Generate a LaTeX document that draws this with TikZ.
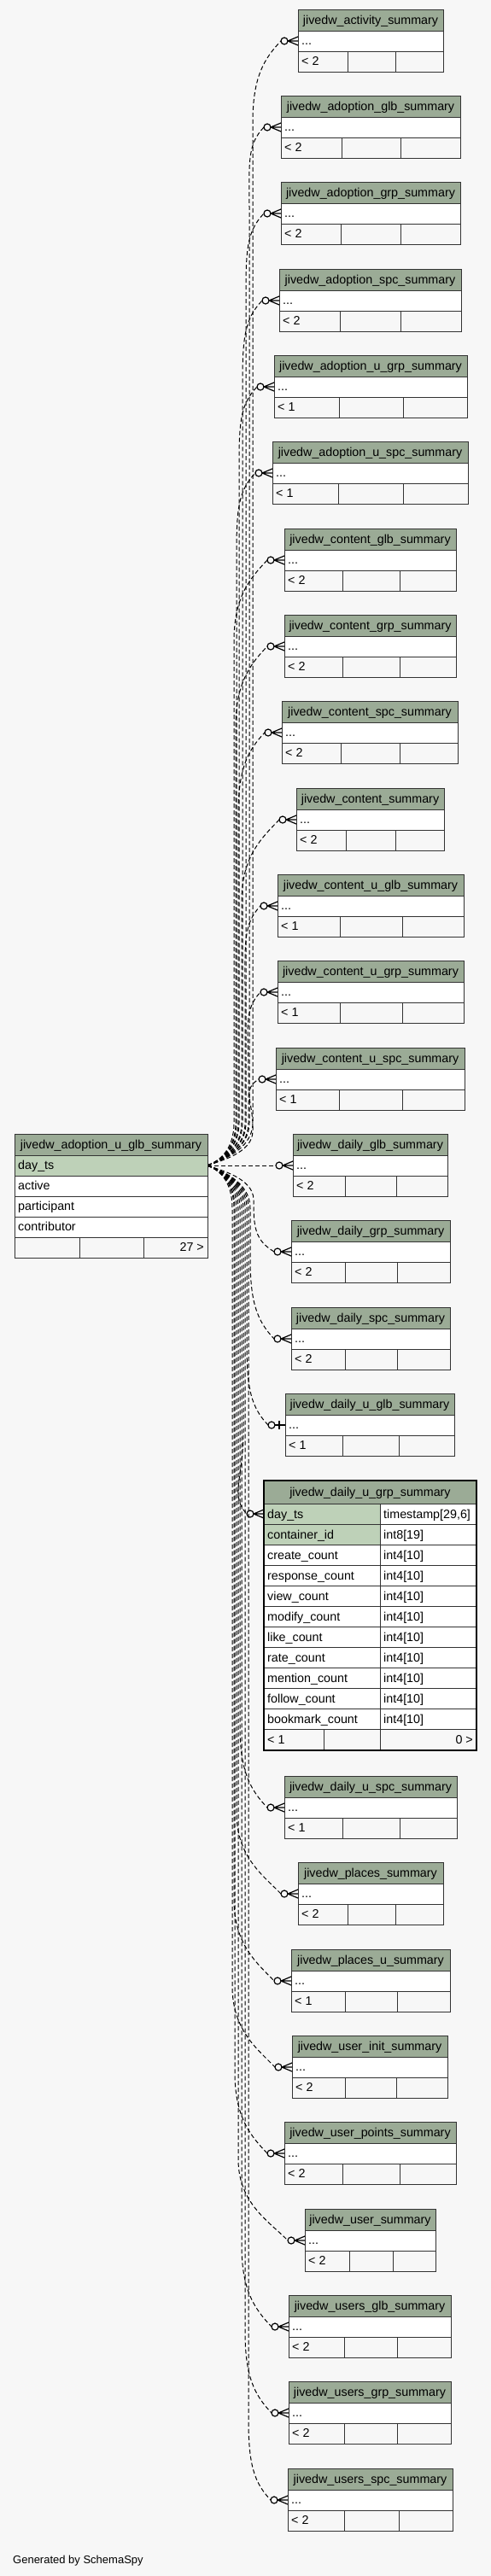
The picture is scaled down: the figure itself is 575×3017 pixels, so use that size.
\documentclass[tikz,border=0pt]{standalone}
\usepackage{fontspec}
\setmainfont{Liberation Sans}
\definecolor{hdr}{HTML}{9BAB96}
\definecolor{pkc}{HTML}{BED1B8}
\definecolor{bgc}{HTML}{F7F7F7}
\definecolor{ln}{HTML}{333333}
\pgfdeclarelayer{bglayer}
\pgfdeclarelayer{edgelayer}
\pgfsetlayers{bglayer,edgelayer,main}
\tikzset{
 tline/.style={draw=ln, line width=1pt},
 htext/.style={anchor=base, inner sep=0pt, font=\fontsize{14.3}{17}\selectfont},
 ltext/.style={anchor=base west, inner sep=0pt, font=\fontsize{14.3}{17}\selectfont},
 rtext/.style={anchor=base east, inner sep=0pt, font=\fontsize{14.3}{17}\selectfont},
 fk/.style={draw=black, line width=1pt, dash pattern=on 5pt off 3pt},
 mk/.style={draw=black, line width=1.2pt},
}
% table: id, name, x1, x2, top, d1, d2, footer
\newcommand{\stab}[8]{%
 \fill[hdr] (#3,#5) rectangle (#4,#5+25);
 \fill[white] (#3,#5+25) rectangle (#4,#5+49);
 \fill[bgc] (#3,#5+49) rectangle (#4,#5+73);
 \draw[tline] (#3,#5) rectangle (#4,#5+73);
 \draw[tline] (#3,#5+25) -- (#4,#5+25);
 \draw[tline] (#3,#5+49) -- (#4,#5+49);
 \draw[tline] (#6,#5+49) -- (#6,#5+73);
 \draw[tline] (#7,#5+49) -- (#7,#5+73);
 \node[htext] (#1-h) at ({(#3+#4)/2},#5+17) {#2};
 \node[ltext] (#1-r) at (#3+4,#5+41) {...};
 \node[ltext] (#1-f) at (#3+4,#5+65) {#8};
 \coordinate (#1-in) at (#3-20,#5+37);
}
\newcommand{\crowmk}[2]{%
 \draw[mk] (#1-16,#2) circle[radius=4pt];
 \draw[mk] (#1-12,#2) -- (#1,#2-5) (#1-12,#2) -- (#1,#2) (#1-12,#2) -- (#1,#2+5);
}
\newcommand{\teemk}[2]{%
 \draw[mk] (#1-16,#2) circle[radius=4pt];
 \draw[mk] (#1-12,#2) -- (#1,#2);
 \draw[black, line width=2.5pt] (#1-7,#2-5) -- (#1-7,#2+5);
}
% edge: id, xT, yT, trunk x
\newcommand{\fkedge}[4]{%
 \pgfmathsetmacro{\dd}{(#3>1365)?1:-1}%
 \pgfmathsetmacro{\ady}{abs(#3-1365)}%
 \pgfmathsetmacro{\La}{min(50,\ady*0.4)}%
 \pgfmathsetmacro{\Lb}{min(95,\ady*0.55)}%
 \draw[fk] (src) .. controls (256,1365+\dd*5) and (#4,1365+\dd*\La*0.35) .. (#4,1365+\dd*\La) -- (#4,#3-\dd*\Lb) .. controls (#4,#3-\dd*\Lb*0.45) and (#2-40,#3-\dd*\Lb*0.22) .. (#1-in);
}
\begin{document}
\begin{tikzpicture}[x=1pt,y=-1pt]
\useasboundingbox (0,0) rectangle (575,3017);
\begin{pgfonlayer}{bglayer}
\fill[bgc] (0,0) rectangle (575,3017);
\end{pgfonlayer}
\coordinate (src) at (243,1365);
\coordinate (big-in) at (289,1773);
% ---- tables
\stab{act}{jivedw\_activity\_summary}{349}{519}{11}{407}{463}{< 2}
\stab{adglb}{jivedw\_adoption\_glb\_summary}{329}{539}{112}{400}{469}{< 2}
\stab{adgrp}{jivedw\_adoption\_grp\_summary}{329}{539}{213}{399}{469}{< 2}
\stab{adspc}{jivedw\_adoption\_spc\_summary}{327}{540}{315}{398}{469}{< 2}
\stab{adugrp}{jivedw\_adoption\_u\_grp\_summary}{321}{547}{416}{397}{472}{< 1}
\stab{aduspc}{jivedw\_adoption\_u\_spc\_summary}{319}{548}{517}{396}{472}{< 1}
\stab{cglb}{jivedw\_content\_glb\_summary}{333}{534}{619}{401}{468}{< 2}
\stab{cgrp}{jivedw\_content\_grp\_summary}{333}{534}{720}{401}{468}{< 2}
\stab{cspc}{jivedw\_content\_spc\_summary}{330}{536}{821}{399}{468}{< 2}
\stab{csum}{jivedw\_content\_summary}{347}{520}{923}{405}{463}{< 2}
\stab{cuglb}{jivedw\_content\_u\_glb\_summary}{325}{543}{1024}{398}{471}{< 1}
\stab{cugrp}{jivedw\_content\_u\_grp\_summary}{325}{543}{1125}{398}{471}{< 1}
\stab{cuspc}{jivedw\_content\_u\_spc\_summary}{323}{544}{1227}{397}{471}{< 1}
\stab{dglb}{jivedw\_daily\_glb\_summary}{343}{524}{1328}{404}{464}{< 2}
\stab{dgrp}{jivedw\_daily\_grp\_summary}{341}{527}{1429}{404}{465}{< 2}
\stab{dspc}{jivedw\_daily\_spc\_summary}{341}{527}{1531}{404}{465}{< 2}
\stab{duglb}{jivedw\_daily\_u\_glb\_summary}{334}{532}{1632}{401}{467}{< 1}
\stab{duspc}{jivedw\_daily\_u\_spc\_summary}{333}{535}{2080}{401}{468}{< 1}
\stab{pl}{jivedw\_places\_summary}{349}{519}{2181}{407}{463}{< 2}
\stab{plu}{jivedw\_places\_u\_summary}{341}{527}{2283}{404}{465}{< 1}
\stab{ui}{jivedw\_user\_init\_summary}{342}{524}{2384}{404}{464}{< 2}
\stab{up}{jivedw\_user\_points\_summary}{333}{534}{2485}{401}{468}{< 2}
\stab{us}{jivedw\_user\_summary}{357}{510}{2587}{409}{460}{< 2}
\stab{usglb}{jivedw\_users\_glb\_summary}{338}{528}{2688}{403}{465}{< 2}
\stab{usgrp}{jivedw\_users\_grp\_summary}{338}{528}{2789}{403}{465}{< 2}
\stab{usspc}{jivedw\_users\_spc\_summary}{337}{530}{2891}{403}{467}{< 2}
% ---- connectors
\begin{pgfonlayer}{edgelayer}
\fkedge{act}{349}{48}{296}
\fkedge{adglb}{329}{149}{292}
\fkedge{adgrp}{329}{250}{288}
\fkedge{adspc}{327}{352}{284}
\fkedge{adugrp}{321}{453}{280}
\fkedge{aduspc}{319}{554}{277}
\fkedge{cglb}{333}{656}{274}
\fkedge{cgrp}{333}{757}{276}
\fkedge{cspc}{330}{858}{279}
\fkedge{csum}{347}{960}{283}
\fkedge{cuglb}{325}{1061}{287}
\fkedge{cugrp}{325}{1162}{291}
\fkedge{cuspc}{323}{1264}{296}
\fkedge{dgrp}{341}{1466}{297}
\fkedge{dspc}{341}{1568}{293}
\fkedge{duglb}{334}{1669}{289}
\fkedge{big}{309}{1773}{285}
\fkedge{duspc}{333}{2117}{281}
\fkedge{pl}{349}{2218}{277}
\fkedge{plu}{341}{2320}{274}
\fkedge{ui}{342}{2421}{272}
\fkedge{up}{333}{2522}{275}
\fkedge{us}{357}{2624}{279}
\fkedge{usglb}{338}{2725}{283}
\fkedge{usgrp}{338}{2826}{287}
\fkedge{usspc}{337}{2928}{291}
\draw[fk] (src) -- (dglb-in);
\end{pgfonlayer}
% markers
\crowmk{349}{48}\crowmk{329}{149}\crowmk{329}{250}\crowmk{327}{352}
\crowmk{321}{453}\crowmk{319}{554}\crowmk{333}{656}\crowmk{333}{757}
\crowmk{330}{858}\crowmk{347}{960}\crowmk{325}{1061}\crowmk{325}{1162}
\crowmk{323}{1264}\crowmk{343}{1365}\crowmk{341}{1466}\crowmk{341}{1568}
\teemk{334}{1669}\crowmk{309}{1773}\crowmk{333}{2117}\crowmk{349}{2218}
\crowmk{341}{2320}\crowmk{342}{2421}\crowmk{333}{2522}\crowmk{357}{2624}
\crowmk{338}{2725}\crowmk{338}{2826}\crowmk{337}{2928}
% ---- source table
\fill[hdr] (17,1328) rectangle (243,1353);
\fill[pkc] (17,1353) rectangle (243,1377);
\fill[white] (17,1377) rectangle (243,1449);
\fill[bgc] (17,1449) rectangle (243,1473);
\draw[tline] (17,1328) rectangle (243,1473);
\foreach \yy in {1353,1377,1401,1425,1449} \draw[tline] (17,\yy) -- (243,\yy);
\draw[tline] (93,1449) -- (93,1473) (168,1449) -- (168,1473);
\node[htext] (src-h) at (130,1345) {jivedw\_adoption\_u\_glb\_summary};
\node[ltext] (src-r1) at (21,1369) {day\_ts};
\node[ltext] (src-r2) at (21,1393) {active};
\node[ltext] (src-r3) at (21,1417) {participant};
\node[ltext] (src-r4) at (21,1441) {contributor};
\node[rtext] (src-f) at (239,1465) {27 >};
% ---- focus table
\fill[hdr] (309,1734) rectangle (558,1761);
\fill[pkc] (309,1761) rectangle (445,1809);
\fill[white] (445,1761) rectangle (558,1809);
\fill[white] (309,1809) rectangle (558,2025);
\fill[bgc] (309,2025) rectangle (558,2050);
\foreach \yy in {1761,1785,1809,1833,1857,1881,1905,1929,1953,1977,2001,2025} \draw[tline] (309,\yy) -- (558,\yy);
\draw[tline] (445,1761) -- (445,2050) (379,2025) -- (379,2050);
\draw[black, line width=2.2pt] (309,1734) rectangle (558,2050);
\node[htext] (big-h) at (433.5,1752) {jivedw\_daily\_u\_grp\_summary};
\node[ltext] (big-n1) at (313,1778) {day\_ts};
\node[ltext] (big-t1) at (449,1778) {timestamp[29,6]};
\node[ltext] (big-n2) at (313,1802) {container\_id};
\node[ltext] (big-t2) at (449,1802) {int8[19]};
\node[ltext] (big-n3) at (313,1826) {create\_count};
\node[ltext] (big-t3) at (449,1826) {int4[10]};
\node[ltext] (big-n4) at (313,1850) {response\_count};
\node[ltext] (big-t4) at (449,1850) {int4[10]};
\node[ltext] (big-n5) at (313,1874) {view\_count};
\node[ltext] (big-t5) at (449,1874) {int4[10]};
\node[ltext] (big-n6) at (313,1898) {modify\_count};
\node[ltext] (big-t6) at (449,1898) {int4[10]};
\node[ltext] (big-n7) at (313,1922) {like\_count};
\node[ltext] (big-t7) at (449,1922) {int4[10]};
\node[ltext] (big-n8) at (313,1946) {rate\_count};
\node[ltext] (big-t8) at (449,1946) {int4[10]};
\node[ltext] (big-n9) at (313,1970) {mention\_count};
\node[ltext] (big-t9) at (449,1970) {int4[10]};
\node[ltext] (big-n10) at (313,1994) {follow\_count};
\node[ltext] (big-t10) at (449,1994) {int4[10]};
\node[ltext] (big-n11) at (313,2018) {bookmark\_count};
\node[ltext] (big-t11) at (449,2018) {int4[10]};
\node[ltext] (big-f1) at (313,2042) {< 1};
\node[rtext] (big-f2) at (554,2042) {0 >};
% ---- footer text
\node[anchor=base west, inner sep=0pt, font=\fontsize{13}{15}\selectfont] (gen) at (15,3002) {Generated by SchemaSpy};
\end{tikzpicture}
\end{document}
